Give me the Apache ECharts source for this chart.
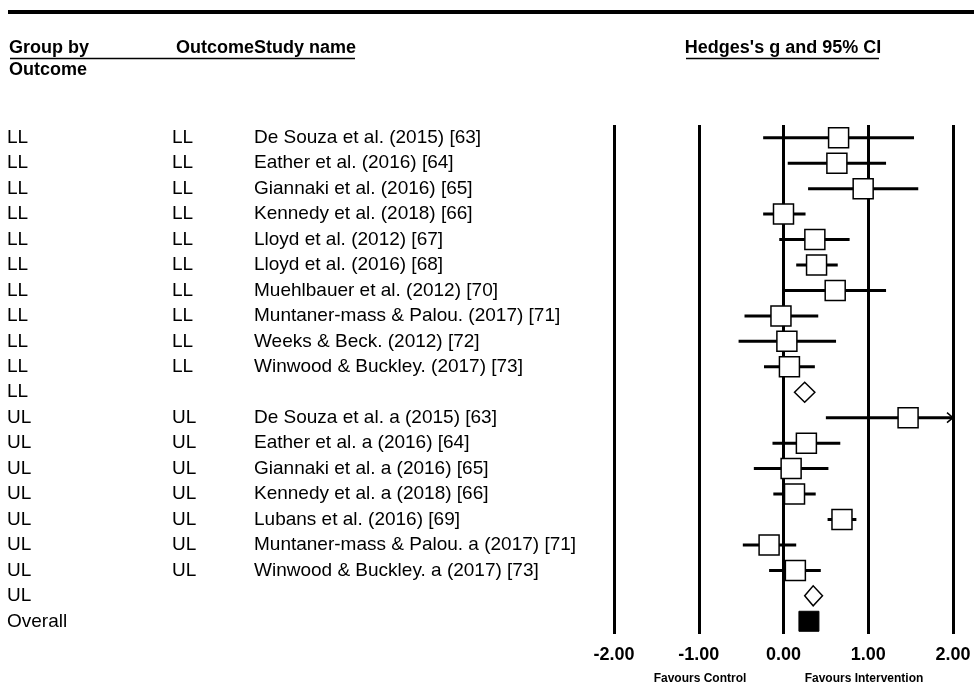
<!DOCTYPE html>
<html>
<head>
<meta charset="utf-8">
<script src="https://cdn.jsdelivr.net/npm/echarts@6/dist/echarts.min.js"></script>
<style>
html,body{margin:0;padding:0;background:#fff;}
#chart{width:974px;height:684px;}
</style>
</head>
<body>
<div id="chart"></div>
<script>
// ---- data ----
var groups = ['LL','LL','LL','LL','LL','LL','LL','LL','LL','LL','LL',
              'UL','UL','UL','UL','UL','UL','UL','UL','Overall'];
var outcomes = ['LL','LL','LL','LL','LL','LL','LL','LL','LL','LL','',
                'UL','UL','UL','UL','UL','UL','UL','',''];
var studies = [
  'De Souza et al. (2015) [63]',
  'Eather et al. (2016) [64]',
  'Giannaki et al. (2016) [65]',
  'Kennedy et al. (2018) [66]',
  'Lloyd et al. (2012) [67]',
  'Lloyd et al. (2016) [68]',
  'Muehlbauer et al. (2012) [70]',
  'Muntaner-mass & Palou. (2017) [71]',
  'Weeks & Beck. (2012) [72]',
  'Winwood & Buckley. (2017) [73]',
  '',
  'De Souza et al. a (2015) [63]',
  'Eather et al. a (2016) [64]',
  'Giannaki et al. a (2016) [65]',
  'Kennedy et al. a (2018) [66]',
  'Lubans et al. (2016) [69]',
  'Muntaner-mass & Palou. a (2017) [71]',
  'Winwood & Buckley. a (2017) [73]',
  '',
  ''
];
var kinds = ['study','study','study','study','study','study','study','study','study','study','summary',
             'study','study','study','study','study','study','study','summary','overall'];
var hedgesG = [0.65, 0.63, 0.94, 0.00, 0.37, 0.39, 0.61, -0.03, 0.04, 0.07, 0.25,
               1.47, 0.27, 0.09, 0.13, 0.69, -0.17, 0.14, 0.35, 0.30];
var lowerCI = [-0.24, 0.05, 0.29, -0.24, -0.05, 0.15, 0.00, -0.46, -0.53, -0.23, 0.13,
               0.50, -0.13, -0.35, -0.12, 0.52, -0.48, -0.17, 0.25, null];
var upperCI = [1.54, 1.21, 1.59, 0.26, 0.78, 0.64, 1.21, 0.41, 0.62, 0.37, 0.37,
               2.44, 0.67, 0.53, 0.38, 0.86, 0.15, 0.44, 0.46, null];
var xTicks = [-2, -1, 0, 1, 2];
var xMin = -2, xMax = 2;

// ---- chart ----
var FONT = "'Liberation Sans', Arial, Helvetica, sans-serif";
var chart = echarts.init(document.getElementById('chart'), null, {renderer:'canvas'});

var forestData = hedgesG.map(function(g, i){
  return [g, lowerCI[i] == null ? '-' : lowerCI[i], upperCI[i] == null ? '-' : upperCI[i], i];
});
var textData = studies.map(function(s, i){ return [0, i]; });

function renderForest(params, api){
  var i = params.dataIndex;
  var kind = kinds[i];
  var g = api.value(0), lo = api.value(1), hi = api.value(2), row = api.value(3);
  var c = api.coord([g, row]);
  var cx = c[0], cy = c[1];
  var children = [];
  var half = 10;
  if (kind === 'study') {
    var loC = Math.max(lo, xMin), hiC = Math.min(hi, xMax);
    var p1 = api.coord([loC, row]), p2 = api.coord([hiC, row]);
    children.push({type:'line', shape:{x1:p1[0], y1:cy, x2:p2[0], y2:cy},
      style:{stroke:'#000', lineWidth:3}});
    if (hi > xMax) {
      children.push({type:'polyline', shape:{points:[[p2[0]-6, cy-5],[p2[0], cy],[p2[0]-6, cy+5]]},
        style:{stroke:'#000', lineWidth:1.5, fill:null}});
    }
    children.push({type:'rect', shape:{x:cx-half, y:cy-half, width:2*half, height:2*half},
      style:{fill:'#fff', stroke:'#000', lineWidth:1.5}});
  } else if (kind === 'summary') {
    var a = api.coord([lo, row]), b = api.coord([hi, row]);
    children.push({type:'polygon', shape:{points:[[a[0], cy],[cx, cy-10],[b[0], cy],[cx, cy+10]]},
      style:{fill:'#fff', stroke:'#000', lineWidth:1.5}});
  } else {
    children.push({type:'rect', shape:{x:cx-half, y:cy-half, width:2*half, height:2*half},
      style:{fill:'#000', stroke:'#000', lineWidth:1}});
  }
  return {type:'group', children:children};
}

function renderText(params, api){
  var i = params.dataIndex;
  var y = api.coord([0, api.value(1)])[1];
  var st = function(txt, x){
    return {type:'text', style:{text:txt, x:x, y:y, font:'19px ' + FONT, fill:'#000',
      align:'left', verticalAlign:'middle', textAlign:'left', textVerticalAlign:'middle'}};
  };
  return {type:'group', children:[st(groups[i], 7), st(outcomes[i], 172), st(studies[i], 254)]};
}

var option = {
  backgroundColor:'#fff',
  animation:false,
  grid:{left:614, width:339, top:125, height:509, containLabel:false},
  xAxis:{
    type:'value', min:xMin, max:xMax, interval:1,
    axisLine:{show:false}, axisTick:{show:false},
    splitLine:{show:true, lineStyle:{color:'#000', width:3}},
    axisLabel:{show:true, margin:12, color:'#000', fontSize:18, fontWeight:'bold', fontFamily:FONT,
      formatter:function(v){ return xTicks.indexOf(v) >= 0 ? v.toFixed(2) : ''; }}
  },
  yAxis:{
    type:'value', min:-0.5, max:19.5, inverse:true,
    show:false, splitLine:{show:false}
  },
  series:[
    {type:'custom', renderItem:renderForest, data:forestData, clip:false,
      encode:{x:[0,1,2], y:3}, z:10, silent:true},
    {type:'custom', renderItem:renderText, data:textData, clip:false,
      encode:{x:0, y:1}, z:5, silent:true}
  ],
  graphic:[
    {type:'line', shape:{x1:8, y1:12, x2:974, y2:12}, style:{stroke:'#000', lineWidth:4}},
    {type:'text', style:{text:'Group by', x:9, y:48, font:'bold 18px ' + FONT, fill:'#000',
      textAlign:'left', textVerticalAlign:'middle', align:'left', verticalAlign:'middle'}},
    {type:'text', style:{text:'Outcome', x:9, y:70, font:'bold 18px ' + FONT, fill:'#000',
      textAlign:'left', textVerticalAlign:'middle', align:'left', verticalAlign:'middle'}},
    {type:'text', style:{text:'OutcomeStudy name', x:176, y:48, font:'bold 18px ' + FONT, fill:'#000',
      textAlign:'left', textVerticalAlign:'middle', align:'left', verticalAlign:'middle'}},
    {type:'line', shape:{x1:10, y1:58.5, x2:355, y2:58.5}, style:{stroke:'#000', lineWidth:1.5}},
    {type:'text', style:{text:"Hedges's g and 95% CI", x:783, y:48, font:'bold 18px ' + FONT, fill:'#000',
      textAlign:'center', textVerticalAlign:'middle', align:'center', verticalAlign:'middle'}},
    {type:'line', shape:{x1:686, y1:58.5, x2:879, y2:58.5}, style:{stroke:'#000', lineWidth:1.5}},
    {type:'text', style:{text:'Favours Control', x:700, y:679, font:'bold 12px ' + FONT, fill:'#000',
      textAlign:'center', textVerticalAlign:'middle', align:'center', verticalAlign:'middle'}},
    {type:'text', style:{text:'Favours Intervention', x:864, y:679, font:'bold 12px ' + FONT, fill:'#000',
      textAlign:'center', textVerticalAlign:'middle', align:'center', verticalAlign:'middle'}}
  ]
};
chart.setOption(option);
</script>
</body>
</html>
